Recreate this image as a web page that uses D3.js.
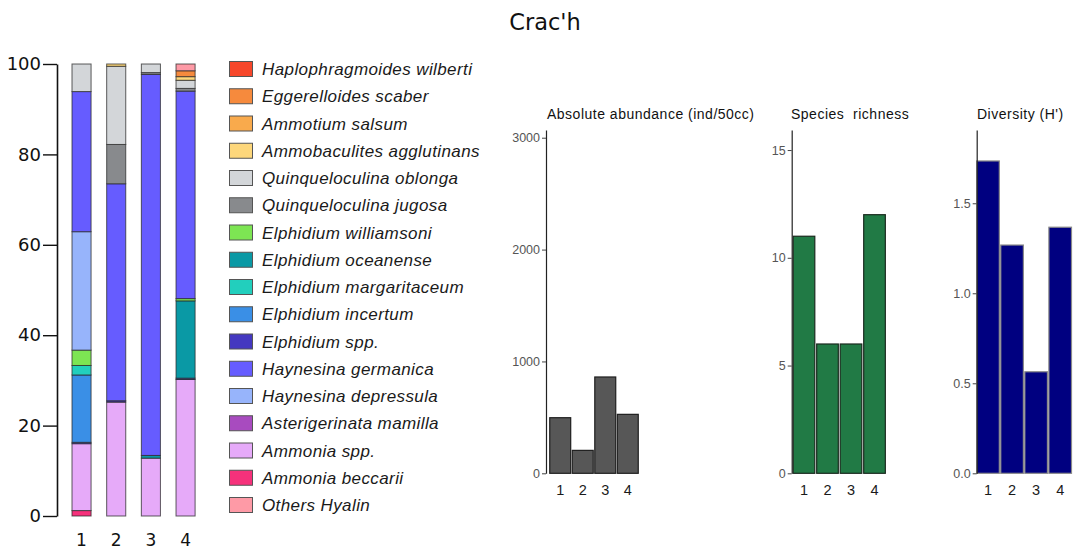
<!DOCTYPE html>
<html>
<head>
<meta charset="utf-8">
<script src="https://cdn.jsdelivr.net/npm/d3@7"></script>
<style>
  html, body { margin: 0; padding: 0; background: #fff; }
  svg { display: block; }
</style>
</head>
<body>
<svg id="chart" width="1073" height="549"></svg>
<script>
// Foraminifera assemblage, station Crac'h

// Species, in legend order
const species = [
  "Haplophragmoides wilberti", "Eggerelloides scaber", "Ammotium salsum",
  "Ammobaculites agglutinans", "Quinqueloculina oblonga", "Quinqueloculina jugosa",
  "Elphidium williamsoni", "Elphidium oceanense", "Elphidium margaritaceum",
  "Elphidium incertum", "Elphidium spp.", "Haynesina germanica",
  "Haynesina depressula", "Asterigerinata mamilla", "Ammonia spp.",
  "Ammonia beccarii", "Others Hyalin"
];
const speciesColors = [
  "#f7472b", "#f68a3d", "#f9aa4c", "#fdd77b", "#d3d6d9", "#888a8d",
  "#7de553", "#0a99a5", "#22cfbd", "#3a8fe6", "#4438c0", "#665cff",
  "#97b4fb", "#a84bbf", "#e6aaf9", "#f6317b", "#fe9aa6"
];

// Order in which taxa are piled up, from the bottom of each bar
const stackOrder = [
  "Ammonia beccarii", "Ammonia spp.", "Asterigerinata mamilla", "Elphidium spp.",
  "Elphidium incertum", "Elphidium margaritaceum", "Elphidium oceanense",
  "Elphidium williamsoni", "Haynesina depressula", "Haynesina germanica",
  "Quinqueloculina jugosa", "Quinqueloculina oblonga", "Ammobaculites agglutinans",
  "Ammotium salsum", "Eggerelloides scaber", "Haplophragmoides wilberti", "Others Hyalin"
];

// Stations
const stations = ["1", "2", "3", "4"];

// Relative abundance (%) per station, aligned with `species`
const pct1 = [0, 0, 0, 0, 6.1, 0, 3.4, 0, 2.1, 14.9, 0.3, 31.0, 26.2, 0, 14.8, 1.2, 0];
const pct2 = [0, 0, 0, 0.5, 17.3, 8.7, 0, 0, 0, 0, 0.3, 48.0, 0, 0, 25.2, 0, 0];
const pct3 = [0, 0, 0, 0, 1.9, 0.4, 0, 0.6, 0, 0, 0, 84.3, 0, 0, 12.8, 0, 0];
const pct4 = [0, 1.3, 0, 0.8, 1.8, 0.6, 0.5, 17.1, 0, 0, 0.3, 45.9, 0, 0, 30.2, 0, 1.5];

// Stacked percentage axis ticks
const pctTicks = [0, 20, 40, 60, 80, 100];

// Summary indices per station
const abundance = [497, 205, 861, 527];      // ind/50cc
const richness = [11, 6, 6, 12];             // number of species
const diversity = [1.735, 1.268, 0.564, 1.367]; // Shannon H'

const abundanceTicks = [0, 1000, 2000, 3000];
const richnessTicks = [0, 5, 10, 15];
const diversityTicks = [0, 0.5, 1.0, 1.5];

const svg = d3.select("#chart");

// ---------- title ----------
svg.append("text")
  .attr("x", 545).attr("y", 30)
  .attr("text-anchor", "middle")
  .attr("font-family", "DejaVu Sans")
  .attr("font-size", 22.5)
  .attr("fill", "#111")
  .text("Crac'h");

// ---------- stacked composition bars ----------
const table = stations.map((s, i) => {
  const vals = [pct1, pct2, pct3, pct4][i];
  const row = { station: s };
  species.forEach((sp, j) => { row[sp] = vals[j]; });
  return row;
});

const colorOf = d3.scaleOrdinal().domain(species).range(speciesColors);

const xMain = d3.scaleBand().domain(stations)
  .range([64.2, 202.9]).paddingInner(0.45).paddingOuter(0.225);
const yMain = d3.scaleLinear().domain([0, 100]).range([516, 64]);

const series = d3.stack().keys(stackOrder)(table);

const gMain = svg.append("g");
gMain.selectAll("g.layer")
  .data(series)
  .join("g")
  .attr("class", "layer")
  .attr("fill", d => colorOf(d.key))
  .selectAll("rect")
  .data(d => d.filter(p => p[1] - p[0] > 0))
  .join("rect")
  .attr("x", p => xMain(p.data.station))
  .attr("width", xMain.bandwidth())
  .attr("y", p => yMain(p[1]))
  .attr("height", p => yMain(p[0]) - yMain(p[1]))
  .attr("stroke", "#2a2a2a")
  .attr("stroke-width", 1)
  .attr("stroke-opacity", 0.75);

const axMain = gMain.append("g")
  .attr("transform", "translate(57,0)")
  .call(d3.axisLeft(yMain).tickValues(pctTicks).tickSize(14).tickSizeOuter(0).tickPadding(2));
axMain.select(".domain").attr("stroke", "#111").attr("stroke-width", 1.6);
axMain.selectAll(".tick line").attr("stroke", "#111").attr("stroke-width", 1.4);
axMain.selectAll(".tick text")
  .attr("font-family", "DejaVu Sans").attr("font-size", 18).attr("fill", "#111");

gMain.selectAll("text.xlab")
  .data(stations)
  .join("text")
  .attr("class", "xlab")
  .attr("x", d => xMain(d) + xMain.bandwidth() / 2)
  .attr("y", 546)
  .attr("text-anchor", "middle")
  .attr("font-family", "DejaVu Sans")
  .attr("font-size", 17)
  .attr("fill", "#111")
  .text(d => d);

// ---------- legend ----------
const legend = svg.append("g").attr("transform", "translate(229,0)");
const legendY = d3.scalePoint().domain(species).range([69, 505]);
const item = legend.selectAll("g.item")
  .data(species)
  .join("g")
  .attr("class", "item")
  .attr("transform", d => `translate(0,${legendY(d)})`);
item.append("rect")
  .attr("x", 0.5).attr("y", -7.5)
  .attr("width", 23).attr("height", 15)
  .attr("fill", d => colorOf(d))
  .attr("stroke", "#555").attr("stroke-width", 1);
item.append("text")
  .attr("x", 33).attr("y", 6)
  .attr("font-family", "Liberation Sans, Arial, sans-serif")
  .attr("font-style", "italic")
  .attr("font-size", 17)
  .attr("letter-spacing", 0.4)
  .attr("fill", "#1a1a1a")
  .text(d => d);

// ---------- summary panels ----------
function panel(cfg) {
  const g = svg.append("g");
  const x = d3.scaleBand().domain(stations)
    .range(cfg.xr).paddingInner(cfg.pi).paddingOuter(cfg.po);
  const y = d3.scaleLinear().domain([0, cfg.ymax]).range([473.3, 130]);

  g.selectAll("rect")
    .data(cfg.values)
    .join("rect")
    .attr("x", (d, i) => x(stations[i]))
    .attr("width", x.bandwidth())
    .attr("y", d => y(d))
    .attr("height", d => y(0) - y(d))
    .attr("fill", cfg.fill)
    .attr("stroke", cfg.stroke)
    .attr("stroke-width", 1.2);

  const ax = g.append("g")
    .attr("transform", `translate(${cfg.axisX},0)`)
    .call(d3.axisLeft(y).tickValues(cfg.ticks).tickFormat(cfg.fmt)
      .tickSize(4).tickSizeOuter(0).tickPadding(2));
  ax.select(".domain").attr("stroke", "#222").attr("stroke-width", 1.2);
  ax.selectAll(".tick line").attr("stroke", "#444");
  ax.selectAll(".tick text")
    .attr("font-family", "Liberation Sans, Arial, sans-serif")
    .attr("font-size", 12.5).attr("fill", "#555");

  g.selectAll("text.xlab")
    .data(stations)
    .join("text")
    .attr("class", "xlab")
    .attr("x", d => x(d) + x.bandwidth() / 2)
    .attr("y", 495)
    .attr("text-anchor", "middle")
    .attr("font-family", "Liberation Sans, Arial, sans-serif")
    .attr("font-size", 14.5)
    .attr("fill", "#1a1a1a")
    .text(d => d);

  g.append("text")
    .attr("x", cfg.titleX).attr("y", 119)
    .attr("font-family", "Liberation Sans, Arial, sans-serif")
    .attr("font-size", 14)
    .attr("letter-spacing", 0.5)
    .attr("fill", "#111")
    .style("white-space", "pre")
    .text(cfg.title);
}

panel({
  title: "Absolute abundance (ind/50cc)", titleX: 547,
  values: abundance, ticks: abundanceTicks, fmt: d3.format("d"),
  ymax: 3069, axisX: 546, xr: [547.5, 640.5], pi: 0.07, po: 0.1,
  fill: "#575757", stroke: "#1e1e1e"
});
panel({
  title: "Species  richness", titleX: 791,
  values: richness, ticks: richnessTicks, fmt: d3.format("d"),
  ymax: 15.93, axisX: 791.7, xr: [792, 886.5], pi: 0.08, po: 0.05,
  fill: "#217a45", stroke: "#1a2a1e"
});
panel({
  title: "Diversity (H')", titleX: 977,
  values: diversity, ticks: diversityTicks, fmt: d3.format(".1f"),
  ymax: 1.907, axisX: 976.7, xr: [976.7, 1071.5], pi: 0.06, po: 0,
  fill: "#000080", stroke: "#8a8a8a"
});
</script>
</body>
</html>
